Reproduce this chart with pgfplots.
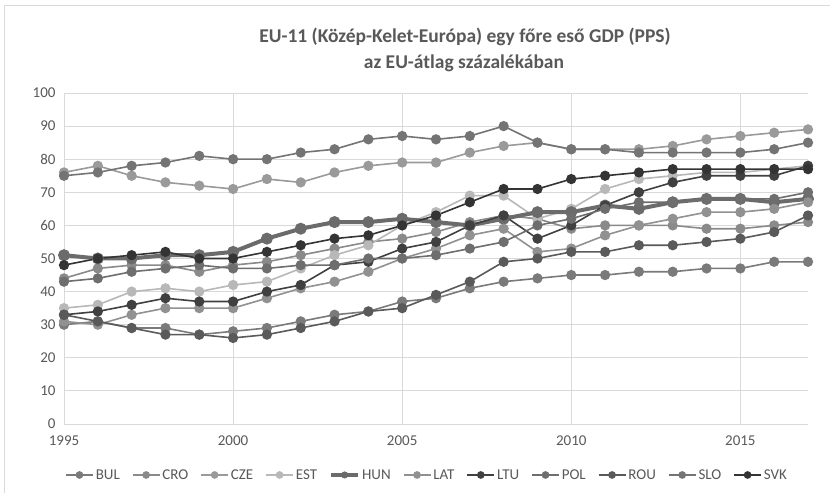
\documentclass[border=0pt]{standalone}
\usepackage{pgfplots}
\pgfplotsset{compat=1.18}
\usepackage{fontspec}
\setmainfont{Carlito}
\definecolor{txt}{HTML}{595959}
\definecolor{grd}{HTML}{D9D9D9}
\definecolor{cBUL}{HTML}{7A7A7A}
\definecolor{cCRO}{HTML}{8A8A8A}
\definecolor{cCZE}{HTML}{9A9A9A}
\definecolor{cEST}{HTML}{B8B8B8}
\definecolor{cHUN}{HTML}{6B6B6B}
\definecolor{cLAT}{HTML}{919191}
\definecolor{cLTU}{HTML}{404040}
\definecolor{cPOL}{HTML}{6E6E6E}
\definecolor{cROU}{HTML}{5A5A5A}
\definecolor{cSLO}{HTML}{747474}
\definecolor{cSVK}{HTML}{343434}
\begin{document}
\begin{tikzpicture}
\path[use as bounding box] (0,0) rectangle (830bp,493bp);
\fill[white] (0,0) rectangle (830bp,493bp);
\draw[grd, line width=1bp] (4bp,0) -- (4bp,487bp) -- (830bp,487bp);
\node[text=txt, font=\fontsize{19.5bp}{23bp}\selectfont\bfseries] at (465bp,456bp) {EU-11 (Közép-Kelet-Európa) egy főre eső GDP (PPS)};
\node[text=txt, font=\fontsize{19.5bp}{23bp}\selectfont\bfseries] at (464bp,430bp) {az EU-átlag százalékában};
\begin{axis}[
  scale only axis,
  width=744bp, height=331bp,
  at={(64bp,69bp)}, anchor=south west,
  xmin=1995, xmax=2017, ymin=0, ymax=100,
  xtick={1995,2000,2005,2010,2015},
  ytick={0,10,...,100},
  grid=major,
  major grid style={grd, line width=0.9bp},
  axis line style={draw=none},
  major tick length=0pt,
  tick label style={text=txt, font=\fontsize{15bp}{17bp}\selectfont},
  /pgf/number format/assume math mode=true,
  xticklabel style={/pgf/number format/1000 sep={}, yshift=-8bp},
  yticklabel style={xshift=-5bp},
  clip=false,
  legend columns=11,
  legend style={at={(0.488,-0.154)}, anchor=center, draw=none, fill=none,
    font=\fontsize{15bp}{17bp}\selectfont, text=txt,
    /tikz/every even column/.append style={column sep=10bp}},
  legend cell align=left,
  legend image code/.code={\draw[#1, mark repeat=2, mark phase=2, mark size=3bp] plot coordinates {(0bp,0bp)(13.5bp,0bp)(27bp,0bp)};},
  every axis plot/.append style={line width=1.6bp, mark=*, mark size=4.3bp},
]
\addplot[cBUL, mark options={fill=cBUL}] table[x=year,y=v] {
year v
1995 30
1996 31
1997 29
1998 29
1999 27
2000 28
2001 29
2002 31
2003 33
2004 34
2005 37
2006 38
2007 41
2008 43
2009 44
2010 45
2011 45
2012 46
2013 46
2014 47
2015 47
2016 49
2017 49
};
\addlegendentry{BUL}
\addplot[cCRO, mark options={fill=cCRO}] table[x=year,y=v] {
year v
1995 44
1996 47
1997 48
1998 48
1999 46
2000 48
2001 49
2002 51
2003 53
2004 55
2005 56
2006 58
2007 61
2008 63
2009 62
2010 59
2011 60
2012 60
2013 60
2014 59
2015 59
2016 60
2017 61
};
\addlegendentry{CRO}
\addplot[cCZE, mark options={fill=cCZE}] table[x=year,y=v] {
year v
1995 76
1996 78
1997 75
1998 73
1999 72
2000 71
2001 74
2002 73
2003 76
2004 78
2005 79
2006 79
2007 82
2008 84
2009 85
2010 83
2011 83
2012 83
2013 84
2014 86
2015 87
2016 88
2017 89
};
\addlegendentry{CZE}
\addplot[cEST, mark options={fill=cEST}] table[x=year,y=v] {
year v
1995 35
1996 36
1997 40
1998 41
1999 40
2000 42
2001 43
2002 47
2003 51
2004 54
2005 60
2006 64
2007 69
2008 69
2009 62
2010 65
2011 71
2012 74
2013 75
2014 76
2015 76
2016 77
2017 78
};
\addlegendentry{EST}
\addplot[cHUN, line width=4bp, mark options={fill=cHUN, line width=1bp}, mark size=5.5bp] table[x=year,y=v] {
year v
1995 51
1996 50
1997 50
1998 51
1999 51
2000 52
2001 56
2002 59
2003 61
2004 61
2005 62
2006 61
2007 60
2008 62
2009 64
2010 64
2011 66
2012 65
2013 67
2014 68
2015 68
2016 67
2017 68
};
\addlegendentry{HUN}
\addplot[cLAT, mark options={fill=cLAT}] table[x=year,y=v] {
year v
1995 31
1996 30
1997 33
1998 35
1999 35
2000 35
2001 38
2002 41
2003 43
2004 46
2005 50
2006 53
2007 57
2008 59
2009 52
2010 53
2011 57
2012 60
2013 62
2014 64
2015 64
2016 65
2017 67
};
\addlegendentry{LAT}
\addplot[cLTU, mark options={fill=cLTU}] table[x=year,y=v] {
year v
1995 33
1996 34
1997 36
1998 38
1999 37
2000 37
2001 40
2002 42
2003 48
2004 49
2005 53
2006 55
2007 60
2008 63
2009 56
2010 60
2011 66
2012 70
2013 73
2014 75
2015 75
2016 75
2017 78
};
\addlegendentry{LTU}
\addplot[cPOL, mark options={fill=cPOL}] table[x=year,y=v] {
year v
1995 43
1996 44
1997 46
1998 47
1999 48
2000 47
2001 47
2002 48
2003 48
2004 50
2005 50
2006 51
2007 53
2008 55
2009 60
2010 62
2011 65
2012 67
2013 67
2014 68
2015 68
2016 68
2017 70
};
\addlegendentry{POL}
\addplot[cROU, mark options={fill=cROU}] table[x=year,y=v] {
year v
1995 33
1996 31
1997 29
1998 27
1999 27
2000 26
2001 27
2002 29
2003 31
2004 34
2005 35
2006 39
2007 43
2008 49
2009 50
2010 52
2011 52
2012 54
2013 54
2014 55
2015 56
2016 58
2017 63
};
\addlegendentry{ROU}
\addplot[cSLO, mark options={fill=cSLO}] table[x=year,y=v] {
year v
1995 75
1996 76
1997 78
1998 79
1999 81
2000 80
2001 80
2002 82
2003 83
2004 86
2005 87
2006 86
2007 87
2008 90
2009 85
2010 83
2011 83
2012 82
2013 82
2014 82
2015 82
2016 83
2017 85
};
\addlegendentry{SLO}
\addplot[cSVK, mark options={fill=cSVK}] table[x=year,y=v] {
year v
1995 48
1996 50
1997 51
1998 52
1999 50
2000 50
2001 52
2002 54
2003 56
2004 57
2005 60
2006 63
2007 67
2008 71
2009 71
2010 74
2011 75
2012 76
2013 77
2014 77
2015 77
2016 77
2017 77
};
\addlegendentry{SVK}
\end{axis}
\end{tikzpicture}
\end{document}
